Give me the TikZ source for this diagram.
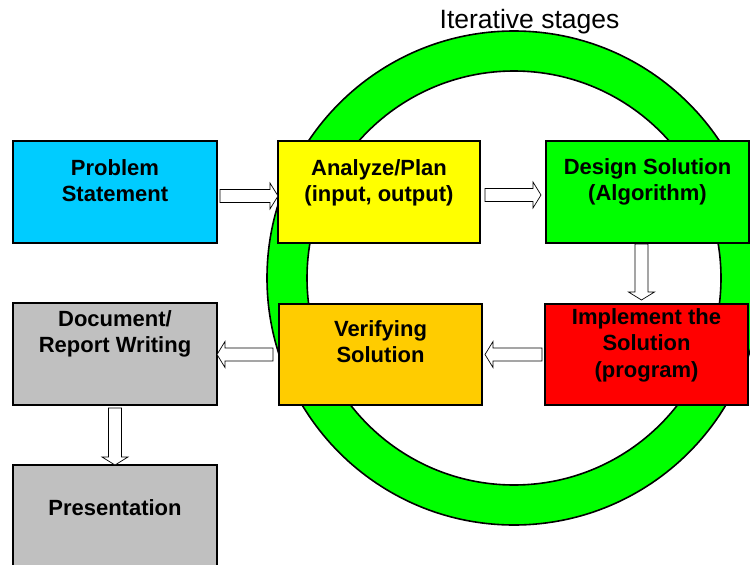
\documentclass[tikz,border=0pt]{standalone}
\usepackage{fontspec}
\setmainfont{Liberation Sans}
\usetikzlibrary{calc}
\definecolor{cyanbox}{RGB}{0,204,255}
\definecolor{yellowbox}{RGB}{255,255,0}
\definecolor{greenbox}{RGB}{0,255,0}
\definecolor{redbox}{RGB}{255,0,0}
\definecolor{orangebox}{RGB}{255,204,0}
\definecolor{graybox}{RGB}{192,192,192}
\newcommand{\boxtext}[4]{\parbox[t][#2pt][t]{#1pt}{\centering\rule{0pt}{#3pt}#4}}
\begin{document}
\begin{tikzpicture}[x=1pt,y=1pt,
  box/.style={draw=black, line width=2pt, inner sep=0pt, outer sep=0pt,
    font=\bfseries\fontsize{22}{26.5}\selectfont},
  ring/.style={fill=greenbox, draw=black, line width=1.6pt, even odd rule},
  blockarrow/.style={draw=black, fill=white, line width=0.7pt, line join=miter,
    to path={let \p1=(\tikztostart), \p2=(\tikztotarget),
      \n1={atan2(\y2-\y1,\x2-\x1)}, \n2={veclen(\x2-\x1,\y2-\y1)} in
      ($(\p1)+(\n1+90:6.5)$) -- ($(\p1)+(\n1:\n2-8)+(\n1+90:6.5)$)
      -- ($(\p1)+(\n1:\n2-8)+(\n1+90:13)$) -- (\p2)
      -- ($(\p1)+(\n1:\n2-8)+(\n1-90:13)$) -- ($(\p1)+(\n1:\n2-8)+(\n1-90:6.5)$)
      -- ($(\p1)+(\n1-90:6.5)$) -- cycle}},
  title/.style={font=\fontsize{26.5}{30}\selectfont, inner sep=0pt}]
\useasboundingbox (0,0) rectangle (750,-565);

% ring
\coordinate (rc) at (514,-278);
\path[ring] (rc) circle[radius=247pt] (rc) circle[radius=207pt];

\node[title, anchor=base] (ttl) at (529.5,-28) {Iterative stages};

% boxes
\node[box, fill=cyanbox]   (ps) at (115,-192)   {\boxtext{204}{102}{34}{Problem\\Statement}};
\node[box, fill=yellowbox] (an) at (379,-192)   {\boxtext{202}{102}{34}{Analyze/Plan\\(input, output)}};
\node[box, fill=greenbox]  (ds) at (647.5,-192) {\boxtext{203}{102}{33}{Design Solution\\(Algorithm)}};
\node[box, fill=redbox]    (im) at (646.5,-354.5) {\boxtext{203}{101}{20}{Implement the\\Solution\\(program)}};
\node[box, fill=orangebox] (vs) at (380.5,-354.5) {\boxtext{203}{101}{32}{Verifying\\Solution}};
\node[box, fill=graybox]   (dw) at (115,-354)   {\boxtext{204}{102}{23}{Document/\\Report Writing}};
\node[box, fill=graybox]   (pr) at (115,-518)   {\boxtext{204}{106}{50}{Presentation}};

% arrows
\draw[blockarrow] ([xshift=3pt,yshift=-4pt]ps.east) to ([yshift=-4pt]an.west);
\draw[blockarrow] ([xshift=5pt,yshift=-3pt]an.east) to ([xshift=-5pt,yshift=-3pt]ds.west);
\draw[blockarrow] ([xshift=-6pt,yshift=-1pt]ds.south) to ([xshift=-5pt,yshift=4pt]im.north);
\draw[blockarrow] ([xshift=-3pt]im.west) to ([xshift=3pt]vs.east);
\draw[blockarrow] ([xshift=-6pt]vs.west) to (dw.east |- vs.west);
\draw[blockarrow] ([yshift=-3pt]dw.south) to (pr.north);
\end{tikzpicture}
\end{document}
